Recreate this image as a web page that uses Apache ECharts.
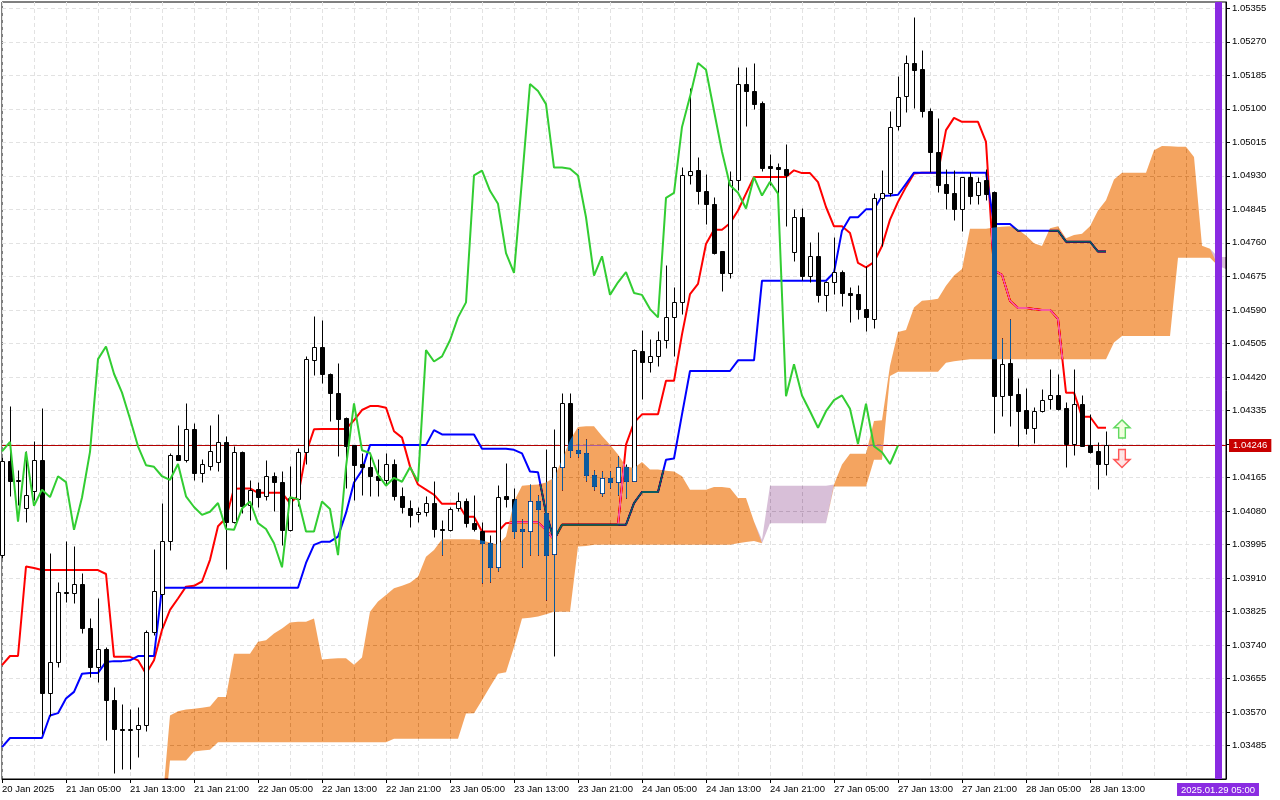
<!DOCTYPE html>
<html lang="en">
<head>
<meta charset="UTF-8">
<title>EURUSD H1 - Ichimoku</title>
<script src="https://cdn.jsdelivr.net/npm/echarts@6.0.0/dist/echarts.min.js"></script>
<style>
  html, body { margin: 0; padding: 0; background: #fff; }
  #chart { width: 1280px; height: 800px; }
</style>
</head>
<body>
<div id="chart"></div>
<script>
// H1 bars, index 0 = 20 Jan 21:00; 139 candles, cloud runs 26 bars ahead
var opens = [1.03969,1.04206,1.04155,1.04087,1.04130,1.04208,1.03618,1.03697,1.03874,1.03872,
  1.03894,1.03782,1.03684,1.03731,1.03600,1.03528,1.03525,1.03527,1.03536,1.03772,
  1.03870,1.04004,1.04223,1.04209,1.04288,1.04176,1.04195,1.04203,1.04255,1.04053,
  1.04230,1.04096,1.04136,1.04119,1.04168,1.04154,1.04032,1.04111,1.04230,1.04463,
  1.04497,1.04427,1.04380,1.04316,1.04247,1.04198,1.04191,1.04168,1.04159,1.04199,
  1.04117,1.04088,1.04072,1.04077,1.04100,1.04034,1.04032,1.04087,1.04104,1.04049,
  1.04030,1.03998,1.03937,1.04117,1.04111,1.04034,1.04028,1.04104,1.04075,1.03971,
  1.04192,1.04353,1.04234,1.04227,1.04172,1.04125,1.04164,1.04154,1.04191,1.04157,
  1.04486,1.04459,1.04472,1.04513,1.04571,1.04609,1.04931,1.04946,1.04892,1.04859,
  1.04739,1.04684,1.04919,1.05163,1.05146,1.05114,1.04954,1.04953,1.04948,1.04736,
  1.04825,1.04677,1.04726,1.04628,1.04660,1.04686,1.04633,1.04630,1.04592,1.04568,
  1.04874,1.04887,1.05057,1.05133,1.05216,1.05200,1.05095,1.04991,1.04910,1.04887,
  1.04847,1.04927,1.04882,1.04919,1.04889,1.04371,1.04455,1.04376,1.04335,1.04291,
  1.04333,1.04363,1.04373,1.04342,1.04250,1.04350,1.04246,1.04231,1.04199];
var highs = [1.04218,1.04346,1.04185,1.04231,1.04257,1.04342,1.03973,1.03899,1.04004,1.03990,
  1.03922,1.03809,1.03858,1.03735,1.03633,1.03591,1.03578,1.03582,1.03778,1.03983,
  1.04100,1.04227,1.04297,1.04353,1.04304,1.04213,1.04297,1.04327,1.04271,1.04244,
  1.04231,1.04159,1.04153,1.04210,1.04178,1.04181,1.04195,1.04240,1.04472,1.04575,
  1.04565,1.04429,1.04456,1.04319,1.04248,1.04226,1.04226,1.04212,1.04226,1.04212,
  1.04141,1.04108,1.04091,1.04117,1.04157,1.04058,1.04090,1.04127,1.04113,1.04121,
  1.04053,1.04019,1.04147,1.04202,1.04139,1.04059,1.04149,1.04121,1.04236,1.04288,
  1.04378,1.04378,1.04288,1.04263,1.04183,1.04181,1.04182,1.04219,1.04199,1.04490,
  1.04539,1.04516,1.04537,1.04705,1.04647,1.04953,1.05152,1.04978,1.04934,1.04876,
  1.04740,1.04943,1.05207,1.05205,1.05217,1.05120,1.04985,1.04963,1.05012,1.04847,
  1.04848,1.04762,1.04787,1.04664,1.04775,1.04690,1.04647,1.04653,1.04701,1.04887,
  1.04945,1.05094,1.05184,1.05237,1.05334,1.05249,1.05101,1.05076,1.04948,1.04944,
  1.04927,1.04940,1.04927,1.04948,1.04891,1.04518,1.04567,1.04416,1.04393,1.04344,
  1.04390,1.04439,1.04427,1.04356,1.04441,1.04373,1.04325,1.04254,1.04282];
var lows = [1.03961,1.04117,1.04096,1.04053,1.04108,1.03515,1.03561,1.03684,1.03848,1.03846,
  1.03771,1.03659,1.03646,1.03498,1.03415,1.03426,1.03426,1.03455,1.03523,1.03765,
  1.03782,1.03981,1.04208,1.04205,1.04158,1.04153,1.04185,1.04181,1.03932,1.04050,
  1.04075,1.04058,1.04091,1.04108,1.04079,1.03994,1.04030,1.04093,1.04198,1.04424,
  1.04404,1.04308,1.04219,1.04138,1.04108,1.04121,1.04119,1.04117,1.04147,1.04108,
  1.04075,1.04039,1.04051,1.04066,1.04015,1.03968,1.04028,1.04079,1.04038,1.04028,
  1.03896,1.03899,1.03928,1.04090,1.04011,1.03939,1.03968,1.03968,1.03854,1.03711,
  1.04134,1.04217,1.04217,1.04155,1.04134,1.04117,1.04138,1.04121,1.04113,1.04155,
  1.04363,1.04433,1.04448,1.04493,1.04473,1.04579,1.04910,1.04859,1.04808,1.04732,
  1.04637,1.04671,1.04893,1.05056,1.05099,1.04943,1.04906,1.04885,1.04804,1.04714,
  1.04667,1.04660,1.04611,1.04588,1.04630,1.04599,1.04558,1.04567,1.04537,1.04543,
  1.04753,1.04880,1.05046,1.05091,1.05101,1.05080,1.04940,1.04889,1.04847,1.04817,
  1.04791,1.04859,1.04859,1.04868,1.04278,1.04321,1.04295,1.04244,1.04274,1.04253,
  1.04331,1.04338,1.04335,1.04192,1.04223,1.04244,1.04227,1.04136,1.04170];
var closes = [1.04206,1.04155,1.04159,1.04121,1.04208,1.03618,1.03697,1.03874,1.03872,1.03894,
  1.03782,1.03684,1.03731,1.03600,1.03528,1.03525,1.03527,1.03536,1.03772,1.03877,
  1.04004,1.04223,1.04210,1.04288,1.04176,1.04200,1.04231,1.04255,1.04053,1.04230,
  1.04093,1.04134,1.04115,1.04168,1.04153,1.04032,1.04114,1.04230,1.04465,1.04497,
  1.04428,1.04380,1.04314,1.04244,1.04196,1.04192,1.04168,1.04159,1.04199,1.04117,
  1.04090,1.04070,1.04078,1.04100,1.04034,1.04032,1.04086,1.04104,1.04049,1.04034,
  1.03998,1.03937,1.04115,1.04110,1.04028,1.04028,1.04104,1.04085,1.03968,1.04192,
  1.04353,1.04234,1.04227,1.04172,1.04144,1.04164,1.04154,1.04191,1.04155,1.04488,
  1.04459,1.04472,1.04513,1.04571,1.04609,1.04931,1.04943,1.04892,1.04859,1.04734,
  1.04684,1.04919,1.05163,1.05145,1.05112,1.04951,1.04951,1.04948,1.04931,1.04825,
  1.04677,1.04726,1.04628,1.04660,1.04686,1.04633,1.04628,1.04592,1.04571,1.04874,
  1.04887,1.05054,1.05131,1.05216,1.05199,1.05095,1.04991,1.04906,1.04887,1.04847,
  1.04927,1.04880,1.04915,1.04885,1.04371,1.04452,1.04373,1.04333,1.04291,1.04333,
  1.04361,1.04373,1.04339,1.04250,1.04352,1.04244,1.04229,1.04199,1.04246];

// Tenkan-sen (red) and Kijun-sen (blue), one value per candle
var tenkan = [1.03689,1.03712,1.03712,1.03939,1.03935,1.03930,1.03930,1.03930,1.03930,1.03930,
  1.03930,1.03930,1.03930,1.03920,1.03710,1.03710,1.03710,1.03701,1.03667,1.03701,
  1.03778,1.03829,1.03858,1.03888,1.03890,1.03901,1.03956,1.04041,1.04062,1.04136,
  1.04137,1.04137,1.04126,1.04126,1.04126,1.04126,1.04100,1.04117,1.04227,1.04287,
  1.04288,1.04288,1.04288,1.04288,1.04310,1.04336,1.04346,1.04346,1.04342,1.04282,
  1.04266,1.04193,1.04147,1.04134,1.04121,1.04098,1.04098,1.04098,1.04065,1.04065,
  1.04028,1.04028,1.04028,1.04049,1.04051,1.04051,1.04051,1.04051,1.04032,1.04007,
  1.04045,1.04045,1.04045,1.04045,1.04045,1.04045,1.04045,1.04045,1.04248,1.04304,
  1.04325,1.04325,1.04325,1.04410,1.04410,1.04528,1.04630,1.04656,1.04757,1.04793,
  1.04793,1.04810,1.04842,1.04885,1.04927,1.04927,1.04927,1.04927,1.04927,1.04944,
  1.04937,1.04937,1.04914,1.04851,1.04802,1.04802,1.04785,1.04709,1.04698,1.04711,
  1.04752,1.04819,1.04864,1.04902,1.04936,1.04938,1.04938,1.04938,1.05046,1.05077,
  1.05067,1.05067,1.05067,1.05016,1.04690,1.04679,1.04613,1.04595,1.04595,1.04592,
  1.04590,1.04590,1.04567,1.04380,1.04380,1.04319,1.04319,1.04291,1.04291];
var kijun = [1.03481,1.03504,1.03504,1.03504,1.03504,1.03504,1.03561,1.03567,1.03604,1.03621,
  1.03667,1.03669,1.03669,1.03697,1.03699,1.03699,1.03701,1.03712,1.03712,1.03712,
  1.03885,1.03885,1.03885,1.03885,1.03885,1.03885,1.03885,1.03885,1.03885,1.03885,
  1.03885,1.03885,1.03885,1.03885,1.03885,1.03885,1.03885,1.03885,1.03948,1.03994,
  1.04002,1.04002,1.04015,1.04075,1.04152,1.04183,1.04247,1.04247,1.04247,1.04247,
  1.04247,1.04247,1.04247,1.04247,1.04285,1.04274,1.04274,1.04274,1.04274,1.04274,
  1.04238,1.04238,1.04238,1.04238,1.04235,1.04226,1.04180,1.04178,1.04075,1.04007,
  1.04045,1.04045,1.04045,1.04045,1.04045,1.04045,1.04045,1.04045,1.04045,1.04100,
  1.04128,1.04128,1.04128,1.04210,1.04213,1.04325,1.04435,1.04435,1.04435,1.04435,
  1.04435,1.04435,1.04462,1.04462,1.04462,1.04664,1.04664,1.04664,1.04664,1.04664,
  1.04664,1.04664,1.04664,1.04664,1.04685,1.04791,1.04825,1.04825,1.04845,1.04845,
  1.04879,1.04880,1.04882,1.04910,1.04938,1.04938,1.04938,1.04938,1.04938,1.04938,
  1.04938,1.04938,1.04938,1.04938,1.04808,1.04808,1.04808,1.04791,1.04791,1.04791,
  1.04791,1.04791,1.04791,1.04763,1.04763,1.04763,1.04763,1.04738,1.04738];

// Senkou span A / B, 154 slots (bars 0..153), cloud starts at bar 20
var senkouA = [null,null,null,null,null,null,null,null,null,null,
  null,null,null,null,null,null,null,null,null,null,
  1.03325,1.03561,1.03572,1.03576,1.03578,1.03581,1.03584,1.03608,1.03608,1.03718,
  1.03718,1.03718,1.03748,1.03752,1.03769,1.03782,1.03797,1.03799,1.03799,1.03807,
  1.03703,1.03705,1.03706,1.03706,1.03690,1.03708,1.03824,1.03850,1.03867,1.03884,
  1.03890,1.03898,1.03913,1.03964,1.03981,1.04008,1.04008,1.04008,1.04008,1.04008,
  1.04005,1.04000,1.03994,1.04015,1.04104,1.04144,1.04146,1.04147,1.04152,1.04164,
  1.04210,1.04259,1.04293,1.04295,1.04295,1.04270,1.04248,1.04223,1.04193,1.04189,
  1.04204,1.04185,1.04185,1.04182,1.04180,1.04168,1.04134,1.04134,1.04134,1.04141,
  1.04141,1.04138,1.04113,1.04113,1.04053,1.03998,1.04049,1.04049,1.04049,1.04049,
  1.04049,1.04049,1.04049,1.04049,1.04147,1.04198,1.04225,1.04225,1.04225,1.04308,
  1.04310,1.04448,1.04534,1.04539,1.04596,1.04613,1.04615,1.04618,1.04651,1.04677,
  1.04694,1.04796,1.04796,1.04796,1.04799,1.04801,1.04802,1.04794,1.04779,1.04759,
  1.04752,1.04797,1.04802,1.04772,1.04780,1.04783,1.04802,1.04842,1.04868,1.04921,
  1.04938,1.04938,1.04938,1.04938,1.04995,1.05006,1.05005,1.05004,1.05004,1.04978,
  1.04753,1.04745,1.04702,1.04694];
var senkouB = [null,null,null,null,null,null,null,null,null,null,
  null,null,null,null,null,null,null,null,null,null,
  1.03243,1.03447,1.03447,1.03447,1.03470,1.03472,1.03474,1.03493,1.03493,1.03493,
  1.03493,1.03493,1.03493,1.03493,1.03493,1.03493,1.03493,1.03493,1.03493,1.03493,
  1.03493,1.03493,1.03493,1.03493,1.03493,1.03493,1.03493,1.03493,1.03493,1.03502,
  1.03502,1.03502,1.03502,1.03502,1.03502,1.03502,1.03502,1.03502,1.03566,1.03567,
  1.03600,1.03634,1.03667,1.03671,1.03735,1.03807,1.03809,1.03812,1.03818,1.03824,
  1.03824,1.03824,1.03990,1.03991,1.03994,1.03994,1.03994,1.03994,1.03994,1.03994,
  1.03994,1.03994,1.03994,1.03994,1.03994,1.03994,1.03994,1.03994,1.03994,1.03994,
  1.03994,1.03994,1.03998,1.04001,1.04004,1.04007,1.04144,1.04144,1.04144,1.04144,
  1.04144,1.04144,1.04144,1.04144,1.04142,1.04142,1.04142,1.04142,1.04142,1.04210,
  1.04210,1.04422,1.04433,1.04433,1.04433,1.04433,1.04433,1.04433,1.04456,1.04460,
  1.04462,1.04465,1.04465,1.04465,1.04465,1.04465,1.04465,1.04465,1.04465,1.04465,
  1.04465,1.04465,1.04465,1.04465,1.04465,1.04465,1.04465,1.04465,1.04465,1.04507,
  1.04524,1.04524,1.04524,1.04524,1.04524,1.04524,1.04524,1.04722,1.04722,1.04722,
  1.04722,1.04722,1.04724,1.04724];

var timeLabels = ['20 Jan 2025','21 Jan 05:00','21 Jan 13:00','21 Jan 21:00','22 Jan 05:00',
  '22 Jan 13:00','22 Jan 21:00','23 Jan 05:00','23 Jan 13:00','23 Jan 21:00','24 Jan 05:00',
  '24 Jan 13:00','24 Jan 21:00','27 Jan 05:00','27 Jan 13:00','27 Jan 21:00','28 Jan 05:00',
  '28 Jan 13:00'];
// grid levels; the 1.04250 label sits under the price tag, so it is not printed
var priceTicks = [1.03485,1.03570,1.03655,1.03740,1.03825,1.03910,1.03995,1.04080,1.04165,
  1.04250,1.04335,1.04420,1.04505,1.04590,1.04675,1.04760,1.04845,1.04930,1.05015,1.05100,
  1.05185,1.05270,1.05355];
var priceLabels = [1.03485,1.03570,1.03655,1.03740,1.03825,1.03910,1.03995,1.04080,1.04165,
  1.04335,1.04420,1.04505,1.04590,1.04675,1.04760,1.04845,1.04930,1.05015,1.05100,
  1.05185,1.05270,1.05355];
var lastPrice = 1.04246;
var lineBar = 152, lineTime = '2025.01.29 05:00';
var arrowUp = [140, 1.04288];
var arrowDown = [140, 1.04213];

var FONT = 'Liberation Sans, Arial, sans-serif';
var NBARS = 154;
var cats = [];
for (var i = 0; i < NBARS; i++) cats.push(String(i));

var candles = opens.map(function (o, i) { return [i, o, closes[i], lows[i], highs[i]]; });

// cloud as stacked bands: base = lower span, then bullish / bearish thickness
var cloudBase = [], cloudUp = [], cloudDown = [];
for (var k = 0; k < NBARS; k++) {
  var a = senkouA[k], b = senkouB[k];
  if (a == null || b == null) { cloudBase.push('-'); cloudUp.push('-'); cloudDown.push('-'); continue; }
  cloudBase.push(Math.min(a, b));
  cloudUp.push(Math.max(a - b, 0));
  cloudDown.push(Math.max(b - a, 0));
}

function candleGeom(api) {
  var idx = api.value(0), o = api.value(1), c = api.value(2), l = api.value(3), h = api.value(4);
  var pO = api.coord([idx, o]), pC = api.coord([idx, c]);
  var pL = api.coord([idx, l]), pH = api.coord([idx, h]);
  var X = Math.round(pO[0]);
  return {
    X: X, bull: c > o,
    top: Math.round(Math.min(pO[1], pC[1])) + 0.5,
    bot: Math.round(Math.max(pO[1], pC[1])) + 0.5,
    hi: Math.round(pH[1]) + 0.5,
    lo: Math.round(pL[1]) + 0.5
  };
}

// black parts of the candles (wicks, outlines, bearish bodies)
function renderInk(params, api) {
  var g = candleGeom(api);
  return {
    type: 'group',
    children: [
      { type: 'line', shape: { x1: g.X + 0.5, y1: g.hi, x2: g.X + 0.5, y2: g.lo },
        style: { stroke: '#000', lineWidth: 1 } },
      { type: 'rect', shape: { x: g.X - 1.5, y: g.top, width: 4, height: g.bot - g.top },
        style: { fill: g.bull ? '#fff' : '#000', stroke: '#000', lineWidth: 1 } }
    ]
  };
}

// white inside of bullish bodies, painted over the cloud
function renderWhite(params, api) {
  var g = candleGeom(api);
  if (!g.bull || g.bot - g.top <= 1) return { type: 'group', children: [] };
  return {
    type: 'rect',
    shape: { x: g.X - 1, y: g.top + 0.5, width: 3, height: g.bot - g.top - 1 },
    style: { fill: '#fff' }
  };
}

var chart = echarts.init(document.getElementById('chart'));

var option = {
  animation: false,
  backgroundColor: '#ffffff',
  grid: {
    left: 2, right: 54, top: 2, bottom: 21,
    show: true, borderColor: '#000', borderWidth: 1,
    containLabel: false, outerBoundsMode: 'none'
  },
  xAxis: {
    type: 'category',
    data: cats,
    boundaryGap: false,
    axisLine: { show: true, lineStyle: { color: '#000', width: 1 } },
    axisTick: {
      show: true, length: 4, lineStyle: { color: '#000' },
      interval: function (i) { return i % 8 === 0 && i / 8 < timeLabels.length; }
    },
    axisLabel: {
      show: true, color: '#000', fontSize: 9.5, fontFamily: FONT, align: 'left', margin: 5,
      interval: function (i) { return i % 8 === 0 && i / 8 < timeLabels.length; },
      formatter: function (v, i) { return timeLabels[i / 8] || ''; }
    },
    splitLine: { show: true, interval: 3, lineStyle: { color: '#e2e2e2', width: 1, type: [4, 3] } }
  },
  yAxis: {
    type: 'value',
    position: 'right',
    min: 1.03400,
    max: 1.05371,
    axisLine: { show: true, lineStyle: { color: '#000', width: 1 } },
    axisTick: { show: true, length: 4, customValues: priceTicks, lineStyle: { color: '#000' } },
    axisLabel: {
      show: true, customValues: priceLabels, color: '#000', fontSize: 9.5, fontFamily: FONT, margin: 6,
      formatter: function (v) { return v.toFixed(5); }
    },
    splitLine: { show: true, lineStyle: { color: '#e2e2e2', width: 1, type: [4, 3] } }
  },
  series: [
    {
      name: 'Tenkan-sen', type: 'line', data: tenkan, z: 2, silent: true,
      symbol: 'none', showSymbol: false,
      lineStyle: { color: '#ff0000', width: 2 }
    },
    {
      name: 'Kijun-sen', type: 'line', data: kijun, z: 2, silent: true,
      symbol: 'none', showSymbol: false,
      lineStyle: { color: '#0000ff', width: 2 },
      markLine: {
        z: 2, silent: true, symbol: ['none', 'none'], animation: false, precision: 5,
        lineStyle: { color: '#b40000', width: 1, type: 'solid' },
        label: {
          show: true, position: 'end', distance: 3,
          formatter: lastPrice.toFixed(5),
          color: '#fff', backgroundColor: '#c80000', padding: [2, 4, 1, 4],
          fontSize: 9.5, fontFamily: FONT
        },
        emphasis: { disabled: true },
        data: [{ yAxis: lastPrice }]
      }
    },
    {
      name: 'candles', type: 'custom', z: 3, silent: true,
      data: candles, encode: { x: 0, y: [1, 2, 3, 4] },
      renderItem: renderInk
    },
    {
      name: 'cloud-base', type: 'line', stack: 'cloud', data: cloudBase, z: 4, silent: true,
      symbol: 'none', showSymbol: false,
      lineStyle: { width: 0, opacity: 0 }
    },
    {
      name: 'Senkou A > B', type: 'line', stack: 'cloud', data: cloudUp, z: 4, silent: true,
      symbol: 'none', showSymbol: false, blendMode: 'difference',
      lineStyle: { width: 0, opacity: 0 },
      areaStyle: { color: '#0b5b9f', opacity: 1 }
    },
    {
      name: 'Senkou B > A', type: 'line', stack: 'cloud', data: cloudDown, z: 4, silent: true,
      symbol: 'none', showSymbol: false, blendMode: 'difference',
      lineStyle: { width: 0, opacity: 0 },
      areaStyle: { color: '#274027', opacity: 1 }
    },
    {
      name: 'bodies', type: 'custom', z: 5, silent: true,
      data: candles, encode: { x: 0, y: [1, 2, 3, 4] },
      renderItem: renderWhite
    },
    {
      name: 'Chikou Span', type: 'line', data: closes.slice(26), z: 6, silent: true,
      symbol: 'none', showSymbol: false,
      lineStyle: { color: '#32cd32', width: 2 },
      markLine: {
        z: 10, silent: true, symbol: ['none', 'none'], animation: false,
        lineStyle: { color: '#8a2be2', width: 7, type: 'solid' },
        label: {
          show: true, position: 'start', distance: 4,
          formatter: lineTime,
          color: '#fff', backgroundColor: '#8a2be2', padding: [2, 4, 1, 4],
          fontSize: 9.5, fontFamily: FONT
        },
        emphasis: { disabled: true },
        data: [{ xAxis: lineBar }]
      }
    },
    {
      name: 'buy', type: 'scatter', z: 10, silent: true, data: [arrowUp],
      symbol: 'path://M6,0 L12,7 L8.5,7 L8.5,16 L3.5,16 L3.5,7 L0,7 Z',
      symbolSize: [16, 18],
      itemStyle: { color: '#efffd8', borderColor: '#3ccf3c', borderWidth: 1.5 }
    },
    {
      name: 'sell', type: 'scatter', z: 10, silent: true, data: [arrowDown],
      symbol: 'path://M3.5,0 L8.5,0 L8.5,9 L12,9 L6,16 L0,9 L3.5,9 Z',
      symbolSize: [16, 18],
      itemStyle: { color: '#ffe0e0', borderColor: '#ff3030', borderWidth: 1.5 }
    }
  ]
};

chart.setOption(option);
</script>
</body>
</html>
